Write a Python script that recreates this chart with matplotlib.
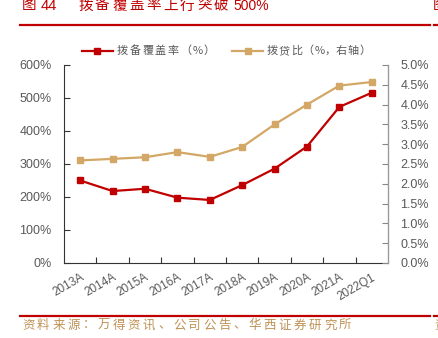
import matplotlib.pyplot as plt
from matplotlib.lines import Line2D
from matplotlib.ticker import FuncFormatter, MultipleLocator

plt.rcParams['font.family'] = ['Liberation Sans', 'Noto Sans CJK SC', 'DejaVu Sans']

periods = ['2013A', '2014A', '2015A', '2016A', '2017A', '2018A',
           '2019A', '2020A', '2021A', '2022Q1']
coverage = [250, 218, 225, 198, 191, 236, 286, 353, 473, 516]      # 拨备覆盖率, %
loan_ratio = [2.59, 2.63, 2.67, 2.80, 2.68, 2.93, 3.50, 4.00, 4.48, 4.57]  # 拨贷比, %

RED = '#C00000'
GOLD = '#D3A765'
GREY = '#595959'
BROWN = '#BE9255'
W, H = 439, 338

fig = plt.figure(figsize=(W / 100, H / 100), dpi=100)
ax = fig.add_axes([0.1458, 0.2219, 0.7380, 0.5858])
ax2 = ax.twinx()


def fx(px):
    return px / W


def fy(py):
    return 1 - py / H


def spaced(x, y, s, step, size, color):
    # CJK text with extra letter spacing, positions in pixels from top-left
    for ch in s:
        fig.text(fx(x), fy(y), ch, color=color, fontsize=size, ha='left',
                 va='center', family=['Noto Sans CJK SC', 'DejaVu Sans'])
        x += step * (0.85 if ch.isascii() else 1.0)


def hline(x0, x1, y, color, lw=1.6):
    fig.add_artist(Line2D([fx(x0), fx(x1)], [fy(y), fy(y)], color=color,
                          lw=lw, transform=fig.transFigure))


def legend_key(x0, x1, y, color):
    xm = (x0 + x1) / 2
    fig.add_artist(Line2D([fx(x0), fx(xm), fx(x1)], [fy(y)] * 3, color=color,
                          lw=1.6, marker='s', ms=4.5, markevery=[1],
                          transform=fig.transFigure))


x = range(len(periods))
ax.plot(x, coverage, color=RED, lw=1.6, marker='s', ms=4.5, zorder=3)
ax2.plot(x, loan_ratio, color=GOLD, lw=1.6, marker='s', ms=4.5, zorder=3)

ax.set_xlim(-0.5, len(periods) - 0.5)
ax.set_ylim(0, 600)
ax2.set_ylim(0, 5.0)
ax.yaxis.set_major_locator(MultipleLocator(100))
ax2.yaxis.set_major_locator(MultipleLocator(0.5))
ax.yaxis.set_major_formatter(FuncFormatter(lambda v, p: f'{v:.0f}%'))
ax2.yaxis.set_major_formatter(FuncFormatter(lambda v, p: f'{v:.1f}%'))

# category ticks sit between periods, labels at the centres
ax.set_xticks([i + 0.5 for i in range(len(periods) - 1)])
ax.set_xticks(list(x), minor=True)
ax.set_xticklabels([])
ax.set_xticklabels(periods, minor=True, rotation=30, ha='right',
                   rotation_mode='anchor', color=GREY, fontsize=8.5)
ax.tick_params(axis='x', which='minor', length=0, pad=6)
ax.tick_params(axis='x', which='major', direction='in', length=4, color='#333333')

ax.tick_params(axis='y', direction='in', length=4, color='#333333',
               labelcolor=GREY, labelsize=9, pad=9)
ax2.tick_params(axis='y', direction='in', length=4, color='#888888',
                labelcolor=GREY, labelsize=9, pad=9)

for a in (ax, ax2):
    a.spines['top'].set_visible(False)
ax.spines['left'].set_color('#333333')
ax.spines['bottom'].set_color('#333333')
ax2.spines['right'].set_color('#999999')
ax2.spines['left'].set_visible(False)
ax2.spines['bottom'].set_visible(False)

# legend
legend_key(82, 113, 51, RED)
spaced(117, 51, '拨备覆盖率（%）', 12.6, 8, GREY)
legend_key(232, 263, 51, GOLD)
spaced(267, 51, '拨贷比（%，右轴）', 11.8, 8, GREY)

# header
fig.text(fx(22), fy(5.5), '图', color=RED, fontsize=10.5, ha='left',
         va='center', family=['Noto Sans CJK SC'])
fig.text(fx(41), fy(5.5), '44', color=RED, fontsize=10.5, ha='left',
         va='center')
spaced(78, 5.5, '拨备覆盖率上行突破', 17.0, 10.5, RED)
fig.text(fx(233), fy(5.5), '500%', color=RED, fontsize=10, ha='left',
         va='center')
fig.text(fx(433), fy(5.5), '图', color=RED, fontsize=10.5, ha='left',
         va='center', family=['Noto Sans CJK SC'])
hline(20, 430, 25, RED)
hline(434, 439, 25, RED)

# footer
hline(20, 430, 316, RED)
hline(434, 439, 316, RED)
spaced(22, 325, '资料来源：万得资讯、公司公告、华西证券研究所', 15.1, 9, BROWN)
fig.text(fx(434), fy(325), '资', color=BROWN, fontsize=9, ha='left',
         va='center', family=['Noto Sans CJK SC'])

fig.savefig('out.png', dpi=100)
